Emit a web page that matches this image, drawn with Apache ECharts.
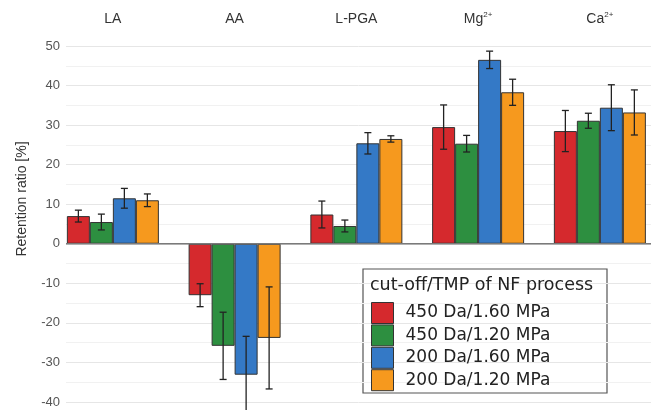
<!DOCTYPE html>
<html>
<head>
<meta charset="utf-8">
<script src="https://cdn.jsdelivr.net/npm/echarts@6/dist/echarts.min.js"></script>
<style>
  html, body { margin: 0; padding: 0; background: #fff; }
  #chart { width: 651px; height: 410px; }
</style>
</head>
<body>
<div id="chart"></div>
<script>
// facets / categories
var categories = ['LA', 'AA', 'L-PGA', 'Mg2+', 'Ca2+'];
var seriesNames = ['450 Da/1.60 MPa', '450 Da/1.20 MPa', '200 Da/1.60 MPa', '200 Da/1.20 MPa'];
var colors = ['#d5292d', '#2d8f40', '#3479c6', '#f6991e'];

// mean retention ratio [%]
var r450_160 = [7.0, -13.0, 7.4, 29.5, 28.5];
var r450_120 = [5.5, -25.8, 4.5, 25.3, 31.1];
var r200_160 = [11.5, -33.1, 25.4, 46.5, 34.4];
var r200_120 = [11.0, -23.8, 26.5, 38.3, 33.2];

// standard deviations
var sd450_160 = [1.5, 2.9, 3.4, 5.6, 5.2];
var sd450_120 = [2.0, 8.5, 1.5, 2.1, 1.9];
var sd200_160 = [2.5, 9.7, 2.7, 2.2, 5.8];
var sd200_120 = [1.6, 12.9, 0.8, 3.3, 5.7];

var yTicks = [-40, -30, -20, -10, 0, 10, 20, 30, 40, 50];

var means = [r450_160, r450_120, r200_160, r200_120];
var sds = [sd450_160, sd450_120, sd200_160, sd200_120];
var catIdx = categories.map(function (c, k) { return k; });

var myChart = echarts.init(document.getElementById('chart'));

var barW = 23;
var series = [];

// zero line across the panel
series.push({
    type: 'line',
    xAxisIndex: 0, yAxisIndex: 0,
    data: [[0, 0], [1, 0]],
    symbol: 'none',
    silent: true,
    z: 5,
    lineStyle: { color: '#7a7a7a', width: 1.5 }
});

seriesNames.forEach(function (name, i) {
    series.push({
        name: name,
        type: 'bar',
        xAxisIndex: 1, yAxisIndex: 1,
        data: means[i].map(function (m, k) { return [k, m]; }),
        barWidth: barW,
        barGap: '0%',
        itemStyle: { color: colors[i], borderColor: '#333', borderWidth: 1 }
    });
});

seriesNames.forEach(function (name, i) {
    var errData = means[i].map(function (m, k) {
        return [k, m - sds[i][k], m + sds[i][k]];
    });
    var off = (i - 1.5) * barW;
    series.push({
        type: 'custom',
        xAxisIndex: 1, yAxisIndex: 1,
        silent: true,
        clip: false,
        z: 6,
        data: errData,
        encode: { x: 0, y: [1, 2] },
        renderItem: function (params, api) {
            var lo = api.coord([api.value(0), api.value(1)]);
            var hi = api.coord([api.value(0), api.value(2)]);
            var x = lo[0] + off;
            var cap = 3.5;
            var st = { stroke: '#222', lineWidth: 1.3 };
            return {
                type: 'group',
                children: [
                    { type: 'line', shape: { x1: x, y1: lo[1], x2: x, y2: hi[1] }, style: st },
                    { type: 'line', shape: { x1: x - cap, y1: lo[1], x2: x + cap, y2: lo[1] }, style: st },
                    { type: 'line', shape: { x1: x - cap, y1: hi[1], x2: x + cap, y2: hi[1] }, style: st }
                ]
            };
        }
    });
});

var option = {
    backgroundColor: '#fff',
    animation: false,
    textStyle: { fontFamily: 'Liberation Sans, Arial, sans-serif' },
    grid: [
        { left: 66, right: 0, top: 46, bottom: 8 },
        { left: 52, right: 0, top: 46, bottom: 8 }
    ],
    xAxis: [
        { type: 'value', gridIndex: 0, min: 0, max: 1, show: false },
        {
            type: 'value', gridIndex: 1, position: 'top',
            // the last facet is cut by the right edge of the picture
            min: -0.5, max: 4.42,
            axisLine: { show: false }, axisTick: { show: false },
            splitLine: { show: false },
            axisLabel: {
                customValues: catIdx,
                margin: 18, color: '#333', fontSize: 14,
                formatter: function (val) {
                    var v = categories[Math.round(val)] || '';
                    var m = v.match(/^(.*?)(\d\+)$/);
                    if (m) return '{b|' + m[1] + '}{sup|' + m[2] + '}';
                    return '{b|' + v + '}';
                },
                rich: {
                    b: { fontSize: 14, lineHeight: 17, color: '#333' },
                    sup: { fontSize: 8, lineHeight: 17, verticalAlign: 'top', color: '#333' }
                }
            }
        }
    ],
    yAxis: [
        {
            type: 'value', gridIndex: 0, min: yTicks[0], max: yTicks[yTicks.length - 1], interval: 10,
            axisLine: { show: false }, axisTick: { show: false },
            axisLabel: { color: '#555', fontSize: 13, margin: 6 },
            splitLine: { lineStyle: { color: '#e6e6e6', width: 1 } },
            minorTick: { show: false, splitNumber: 2 },
            minorSplitLine: { show: true, lineStyle: { color: '#f1f1f1', width: 1 } }
        },
        {
            type: 'value', gridIndex: 1, min: yTicks[0], max: yTicks[yTicks.length - 1], interval: 10,
            show: false, splitLine: { show: false }
        }
    ],
    legend: {
        data: seriesNames,
        orient: 'vertical',
        left: 371, top: 302,
        padding: 0,
        itemWidth: 22, itemHeight: 21, itemGap: 0.4,
        icon: 'rect',
        itemStyle: { borderColor: '#333', borderWidth: 1 },
        textStyle: {
            fontSize: 17, lineHeight: 21, color: '#222', padding: [0, 0, 0, 7],
            fontFamily: 'DejaVu Sans, sans-serif'
        }
    },
    graphic: [
        {
            type: 'rect', z: 0,
            shape: { x: 363, y: 269, width: 244, height: 124 },
            style: { fill: '#fff', stroke: '#555', lineWidth: 1.2 }
        },
        {
            type: 'text', z: 1, x: 370, y: 285,
            style: {
                text: 'cut-off/TMP of NF process', fontSize: 17.5, fill: '#222',
                fontFamily: 'DejaVu Sans, sans-serif', verticalAlign: 'middle'
            }
        },
        {
            type: 'text', x: 22, y: 199, rotation: Math.PI / 2,
            style: {
                text: 'Retention ratio [%]', fontSize: 14, fill: '#333',
                fontFamily: 'Liberation Sans, Arial, sans-serif', align: 'center', verticalAlign: 'middle'
            }
        }
    ],
    series: series
};

myChart.setOption(option);
</script>
</body>
</html>
